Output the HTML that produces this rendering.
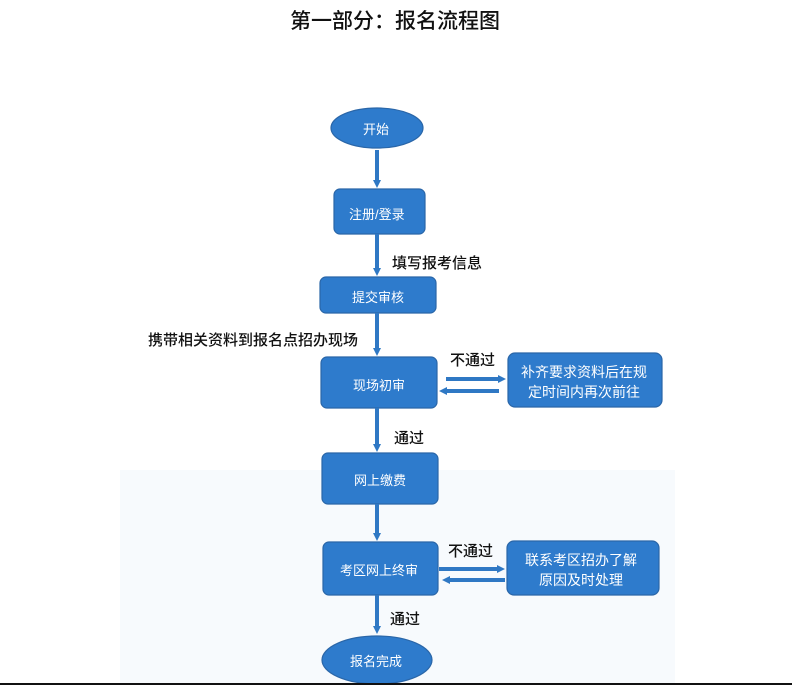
<!DOCTYPE html>
<html><head><meta charset="utf-8"><style>
body{margin:0;width:792px;height:685px;background:#fff;overflow:hidden;position:relative;font-family:"Liberation Sans","Noto Sans CJK SC",sans-serif}
.t{position:absolute;white-space:nowrap;color:#111}
</style></head><body>
<svg width="792" height="685" style="position:absolute;left:0;top:0">
<defs><marker id="a" markerWidth="8" markerHeight="8" refX="4" refY="4" orient="auto" markerUnits="userSpaceOnUse">
<path d="M0,0 L8,4 L0,8 z" fill="#2f78c4"/></marker></defs>
<rect x="120" y="470" width="555" height="213" fill="#f7fafd"/>
<g fill="#2e7bcc" stroke="#2a66a8" stroke-width="1.2">
<ellipse cx="377" cy="128" rx="46" ry="20"/>
<rect x="334" y="189" width="91" height="45" rx="6"/>
<rect x="320" y="277" width="116" height="36" rx="6"/>
<rect x="321" y="357" width="116" height="51" rx="6"/>
<rect x="508" y="353" width="154" height="54" rx="7"/>
<rect x="322" y="453" width="116" height="51" rx="6"/>
<rect x="323" y="542" width="115" height="53" rx="6"/>
<rect x="507" y="541" width="152" height="54" rx="7"/>
<ellipse cx="377" cy="660" rx="55" ry="24"/>
</g>
<g stroke="#2f78c4" stroke-width="4" marker-end="url(#a)">
<line x1="377" y1="150" x2="377" y2="184"/>
<line x1="377" y1="234" x2="377" y2="272"/>
<line x1="377" y1="313" x2="377" y2="352"/>
<line x1="377" y1="408" x2="377" y2="448"/>
<line x1="377" y1="504" x2="377" y2="537"/>
<line x1="377" y1="595" x2="377" y2="630"/>
<line x1="446" y1="379" x2="502" y2="379"/>
<line x1="499" y1="391" x2="443" y2="391"/>
<line x1="439" y1="569" x2="501" y2="569"/>
<line x1="505" y1="580" x2="446" y2="580"/>
</g>
<rect x="0" y="683" width="792" height="2" fill="#111"/>
</svg>
<div class="t" style="left:290px;top:5px;font-size:21px;font-weight:500">第一部分：报名流程图</div>
<div class="t" style="left:363px;top:119px;font-size:13px;color:#fff">开始</div>
<div class="t" style="left:349px;top:204px;font-size:13px;color:#fff">注册/登录</div>
<div class="t" style="left:392px;top:252px;font-size:15px;font-weight:500">填写报考信息</div>
<div class="t" style="left:352px;top:287px;font-size:13px;color:#fff">提交审核</div>
<div class="t" style="left:148px;top:329px;font-size:15px;font-weight:500">携带相关资料到报名点招办现场</div>
<div class="t" style="left:353px;top:375px;font-size:13px;color:#fff">现场初审</div>
<div class="t" style="left:450px;top:349px;font-size:15px;font-weight:500">不通过</div>
<div class="t" style="left:521px;top:362px;font-size:14px;color:#fff;line-height:20px;text-align:center">补齐要求资料后在规<br>定时间内再次前往</div>
<div class="t" style="left:394px;top:427px;font-size:15px;font-weight:500">通过</div>
<div class="t" style="left:354px;top:470px;font-size:13px;color:#fff">网上缴费</div>
<div class="t" style="left:340px;top:560px;font-size:13px;color:#fff">考区网上终审</div>
<div class="t" style="left:448px;top:540px;font-size:15px;font-weight:500">不通过</div>
<div class="t" style="left:525px;top:550px;font-size:14px;color:#fff;line-height:20px;text-align:center">联系考区招办了解<br>原因及时处理</div>
<div class="t" style="left:390px;top:608px;font-size:15px;font-weight:500">通过</div>
<div class="t" style="left:350px;top:651px;font-size:13px;color:#fff">报名完成</div>
</body></html>
